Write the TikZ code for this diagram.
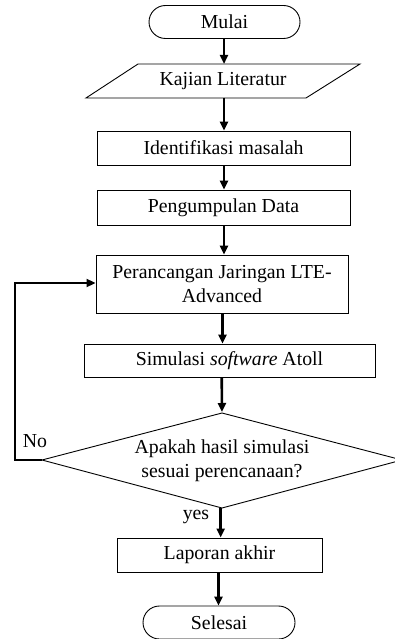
\documentclass[tikz,border=0pt]{standalone}
\usepackage{fontspec}
\setmainfont{Liberation Serif}
\usetikzlibrary{shapes.misc,arrows.meta,calc}
\begin{document}
\begin{tikzpicture}[x=1pt,y=-1pt,
  every node/.style={font=\fontsize{19.8}{24}\selectfont, inner sep=0pt},
  box/.style={draw, rectangle, align=center, line width=0.9pt},
  term/.style={draw, rounded rectangle, line width=0.9pt, minimum width=151pt, minimum height=33pt},
  plain/.style={align=center},
  outline/.style={line width=0.9pt},
  flow/.style={line width=2.6pt, -{Triangle[length=9pt,width=8pt]}},
  loopline/.style={line width=2pt, -{Triangle[length=9pt,width=8pt]}}]
\useasboundingbox (0,0) rectangle (395,639);
% nodes
\node[term] (mulai) at (224.5,22) {Mulai};
\node[plain, minimum width=274pt, minimum height=34pt] (kajian) at (223,81) {Kajian Literatur};
\coordinate (kbl) at (86,98);
\coordinate (kbr) at (306,98);
\coordinate (ktr) at (360,64);
\coordinate (ktl) at (138,64);
\draw[outline] (kbl) -- (kbr) -- (ktr) -- (ktl) -- cycle;
\node[box, minimum width=253pt, minimum height=34pt] (ident) at (223.5,148) {Identifikasi masalah};
\node[box, minimum width=253pt, minimum height=35pt] (peng) at (223.5,207.5) {Pengumpulan Data};
\node[box, minimum width=252pt, minimum height=58pt] (peranc) at (222,284) {Perancangan Jaringan LTE-\\Advanced};
\node[box, minimum width=291pt, minimum height=33pt] (sim) at (229.5,360.5) {Simulasi \textit{software} Atoll};
\node[plain] (dec) at (222,461) {Apakah hasil simulasi\\sesuai perencanaan?};
\coordinate (dtop) at (222,413);
\coordinate (dright) at (402,460);
\coordinate (dbottom) at (222,508);
\coordinate (dleft) at (42,460);
\draw[outline] (dtop) -- (dright) -- (dbottom) -- (dleft) -- cycle;
\node[box, minimum width=205pt, minimum height=34pt] (lap) at (219.5,555) {Laporan akhir};
\node[term, minimum width=152pt] (selesai) at (219,622.5) {Selesai};
\node (no) at (35,441) {No};
\node (yes) at (196,517) {yes};
% connectors
\draw[flow] (224,38.5) -- (224,64);
\draw[flow] (224,98) -- (ident.north -| 224,0);
\draw[flow] (ident.south -| 224,0) -- (peng.north -| 224,0);
\draw[flow] (peng.south -| 224,0) -- (peranc.north -| 224,0);
\draw[flow] (peranc.south -| 222.5,0) -- (sim.north -| 222.5,0);
\draw[flow] (sim.south -| 221.7,0) -- (dtop |- 0,412);
\draw[flow] (dbottom -| 220.7,0) -- (lap.north -| 220.7,0);
\draw[flow] (lap.south -| 218.5,0) -- (selesai.north -| 218.5,0);
\draw[loopline] (dleft) -- (15,460) -- (15,283) -- (peranc.west |- 0,283);
\end{tikzpicture}
\end{document}
